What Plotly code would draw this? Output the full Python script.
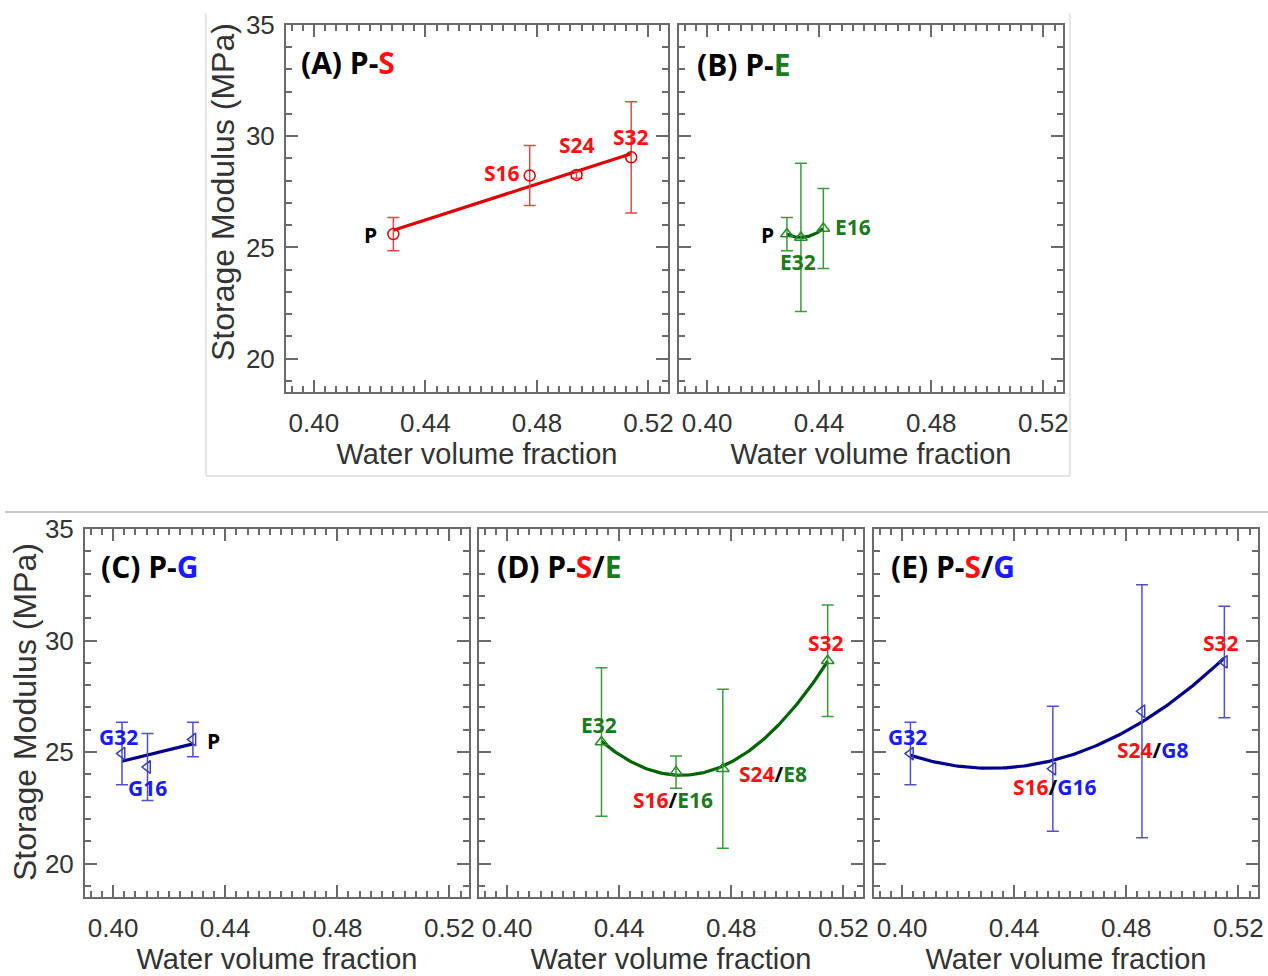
import numpy as np
import plotly.graph_objects as go

W, H = 1268, 976

# ---------------- data ----------------
# (A) P-S
a_labels = ["P", "S16", "S24", "S32"]
a_x = [0.4285, 0.4774, 0.4942, 0.5138]
a_y = [25.6, 28.23, 28.26, 29.05]
a_err = [0.75, 1.35, 0.15, 2.5]

# (B) P-E
b_labels = ["P", "E32", "E16"]
b_x = [0.4285, 0.4335, 0.4415]
b_y = [25.6, 25.45, 25.85]
b_err = [0.75, 3.33, 1.8]

# (C) P-G
c_labels = ["G32", "G16", "P"]
c_x = [0.4032, 0.4123, 0.4285]
c_y = [24.93, 24.33, 25.56]
c_err = [1.4, 1.5, 0.77]

# (D) P-S/E
d_labels = ["E32", "S16/E16", "S24/E8", "S32"]
d_x = [0.4337, 0.4603, 0.4770, 0.5144]
d_y = [25.45, 24.1, 24.25, 29.09]
d_err = [3.33, 0.72, 3.56, 2.5]

# (E) P-S/G
e_labels = ["G32", "S16/G16", "S24/G8", "S32"]
e_x = [0.4030, 0.4538, 0.4856, 0.5150]
e_y = [24.93, 24.25, 26.83, 29.04]
e_err = [1.4, 2.8, 5.67, 2.5]

x_ticks = [0.40, 0.44, 0.48, 0.52]
y_ticks = [20, 25, 30, 35]
x_range = [0.39, 0.527]
y_range = [18.5, 35.0]

# ---------------- styling ----------------
RED_TXT, GRN_TXT, BLU_TXT = "#ff1010", "#1b7a1b", "#1a1aff"
AX = "#6a6a6a"
TICKFONT = dict(family="Liberation Sans, Arial", size=26, color="#333333")
XTITLEFONT = dict(family="Liberation Sans, Arial", size=29, color="#333333")
YTITLEFONT = dict(family="Liberation Sans, Arial", size=32, color="#333333")
LBLFONT = "Open Sans"

panels = [
    dict(x=a_x, y=a_y, err=a_err, dom=(286, 668, 25, 392), line="#e00000", errc="#e04848",
         mk="#e00000", sym="circle-open", deg=1, ylab=True),
    dict(x=b_x, y=b_y, err=b_err, dom=(679, 1063, 25, 392), line="#006400", errc="#3c9a3c",
         mk="#2a8a2a", sym="triangle-up-open", deg=2, ylab=False),
    dict(x=c_x, y=c_y, err=c_err, dom=(85, 469, 529, 897), line="#00008b", errc="#5050c8",
         mk="#3c3cb4", sym="triangle-left-open", deg=1, ylab=True),
    dict(x=d_x, y=d_y, err=d_err, dom=(479, 863, 529, 897), line="#006400", errc="#3c9a3c",
         mk="#2a8a2a", sym="triangle-up-open", deg=2, ylab=False),
    dict(x=e_x, y=e_y, err=e_err, dom=(874, 1258, 529, 897), line="#00008b", errc="#5050c8",
         mk="#3c3cb4", sym="triangle-left-open", deg=2, ylab=False),
]

fig = go.Figure()
layout = dict(width=W, height=H, margin=dict(l=0, r=0, t=0, b=0, pad=0, autoexpand=False),
              paper_bgcolor="white", plot_bgcolor="white", showlegend=False)

for i, p in enumerate(panels, start=1):
    sx = "" if i == 1 else str(i)
    xa, ya = "x" + sx, "y" + sx
    x0, x1, y0, y1 = p["dom"]
    common = dict(showline=True, linecolor=AX, linewidth=2, mirror="ticks",
                  ticks="inside", ticklen=12, tickwidth=2, tickcolor=AX,
                  showgrid=False, zeroline=False, tickfont=TICKFONT, automargin=False)
    layout["xaxis" + sx] = dict(common, domain=[x0 / W, x1 / W], range=x_range,
                                anchor=ya, tickvals=x_ticks, tickformat=".2f",
                                ticklabelstandoff=7,
                                minor=dict(ticks="inside", ticklen=6, tickwidth=1.5,
                                           tickcolor=AX, dtick=0.004, tick0=0.40),
                                title=dict(text="Water volume fraction", font=XTITLEFONT,
                                           standoff=6))
    layout["yaxis" + sx] = dict(common, domain=[1 - y1 / H, 1 - y0 / H], range=y_range,
                                anchor=xa, tickvals=y_ticks, showticklabels=p["ylab"],
                                ticklabelstandoff=4,
                                minor=dict(ticks="inside", ticklen=6, tickwidth=1.5,
                                           tickcolor=AX, dtick=1, tick0=20))
    # fitted trend line from the data points
    coef = np.polyfit(p["x"], p["y"], p["deg"])
    fx = np.linspace(min(p["x"]), max(p["x"]), 120)
    fig.add_trace(go.Scatter(x=fx, y=np.polyval(coef, fx), mode="lines",
                             line=dict(color=p["line"], width=3.2),
                             xaxis=xa, yaxis=ya, hoverinfo="skip"))
    fig.add_trace(go.Scatter(x=p["x"], y=p["y"], mode="markers",
                             marker=dict(symbol=p["sym"], size=11, color=p["mk"],
                                         line=dict(width=1.5, color=p["mk"])),
                             error_y=dict(type="data", array=p["err"], color=p["errc"],
                                          thickness=1.5, width=6),
                             xaxis=xa, yaxis=ya))

fig.update_layout(**layout)


def px(xp, yp):
    return xp / W, 1 - yp / H


def span(t, c):
    return f"<span style='color:{c}'>{t}</span>"


def add_label(text, xp, yp, size=21, anchor="center"):
    xx, yy = px(xp, yp)
    fig.add_annotation(x=xx, y=yy, xref="paper", yref="paper", text=text, showarrow=False,
                       xanchor=anchor, yanchor="middle",
                       font=dict(family=LBLFONT, size=size, color="black", weight="bold"))


# panel titles
add_label("(A) P-" + span("S", RED_TXT), 299, 63, size=30, anchor="left")
add_label("(B) P-" + span("E", GRN_TXT), 695, 65, size=30, anchor="left")
add_label("(C) P-" + span("G", BLU_TXT), 99, 566, size=30, anchor="left")
add_label("(D) P-" + span("S", RED_TXT) + "/" + span("E", GRN_TXT), 495, 566, size=30, anchor="left")
add_label("(E) P-" + span("S", RED_TXT) + "/" + span("G", BLU_TXT), 889, 566, size=30, anchor="left")

# point labels
add_label("P", 370, 235)
add_label(span("S16", RED_TXT), 502, 173)
add_label(span("S24", RED_TXT), 577, 145)
add_label(span("S32", RED_TXT), 631, 137)

add_label("P", 767, 235)
add_label(span("E16", GRN_TXT), 853, 227)
add_label(span("E32", GRN_TXT), 798, 262)

add_label(span("G32", BLU_TXT), 118, 737)
add_label(span("G16", BLU_TXT), 147, 788)
add_label("P", 213, 741)

add_label(span("E32", GRN_TXT), 599, 725)
add_label(span("S16", RED_TXT) + "/" + span("E16", GRN_TXT), 673, 800)
add_label(span("S24", RED_TXT) + "/" + span("E8", GRN_TXT), 773, 774)
add_label(span("S32", RED_TXT), 826, 643)

add_label(span("G32", BLU_TXT), 907, 737)
add_label(span("S16", RED_TXT) + "/" + span("G16", BLU_TXT), 1055, 787)
add_label(span("S24", RED_TXT) + "/" + span("G8", BLU_TXT), 1153, 750)
add_label(span("S32", RED_TXT), 1221, 643)

# y axis titles
for xp, yp in [(223, 192), (25, 712)]:
    xx, yy = px(xp, yp)
    fig.add_annotation(x=xx, y=yy, xref="paper", yref="paper", text="Storage Modulus (MPa)",
                       textangle=-90, showarrow=False, xanchor="center", yanchor="middle",
                       font=YTITLEFONT)

# light frame lines of the composite figure
shapes = []
for (xa0, ya0, xa1, ya1, col, w) in [
    (206, 13, 206, 476, "#dcdcdc", 1.5),
    (1070, 13, 1070, 476, "#dcdcdc", 1.5),
    (206, 476, 1070, 476, "#dcdcdc", 1.5),
    (5, 512, 1268, 512, "#c8c8c8", 2),
]:
    shapes.append(dict(type="line", xref="paper", yref="paper",
                       x0=xa0 / W, x1=xa1 / W, y0=1 - ya0 / H, y1=1 - ya1 / H,
                       line=dict(color=col, width=w)))
fig.update_layout(shapes=shapes)

fig.write_html("out.html")
